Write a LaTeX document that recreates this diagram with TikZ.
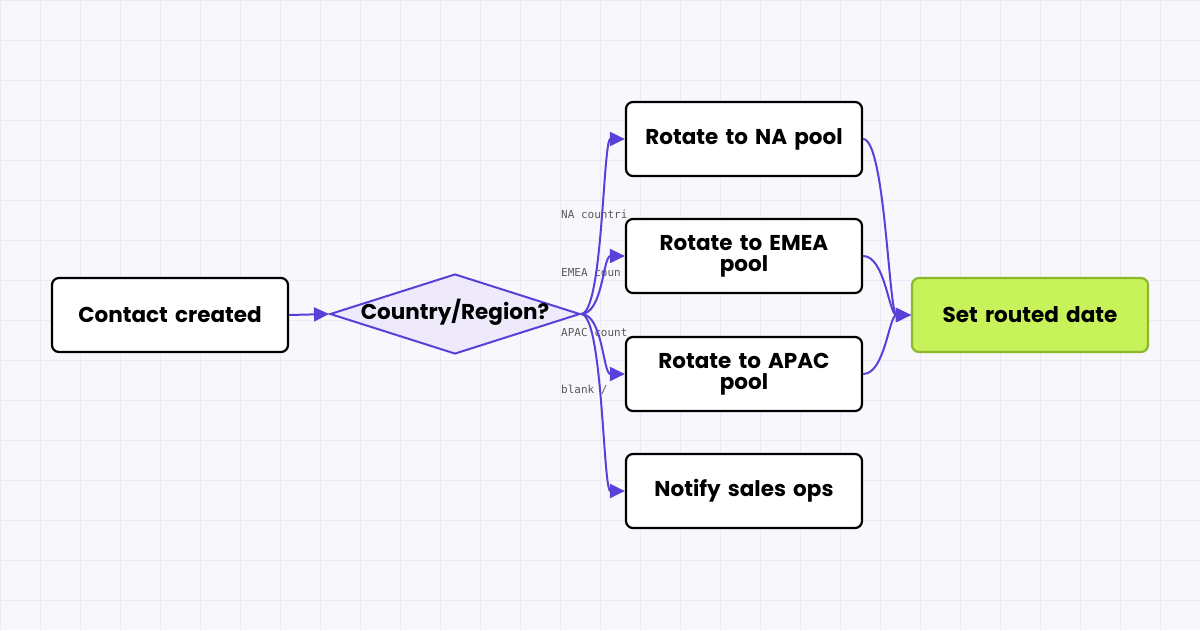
\documentclass[tikz,border=0pt]{standalone}
\usepackage{fontspec}
\setmainfont{Poppins}
\newfontfamily\mono{DejaVu Sans Mono}
\usetikzlibrary{shapes.geometric,arrows.meta}
\definecolor{bgc}{HTML}{F8F8FC}
\definecolor{gridc}{HTML}{ECEAF6}
\definecolor{edgec}{HTML}{5B3FD9}
\definecolor{dfill}{HTML}{EEE9FB}
\definecolor{gfill}{HTML}{C8F25A}
\definecolor{gdraw}{HTML}{8DB82E}
\begin{document}
\begin{tikzpicture}[x=1pt,y=-1pt,
  box/.style={draw=black,line width=2.2pt,rounded corners=7pt,fill=white,minimum width=236pt,minimum height=74pt,align=center,font=\fontsize{21.5}{21}\selectfont\bfseries,text width=220pt},
  edge/.style={draw=edgec,line width=2pt,-{Triangle[length=15pt,width=14pt]}},
  lab/.style={font=\mono\fontsize{11}{12}\selectfont,text=black!65,anchor=west,inner sep=0}]
\fill[bgc] (0,0) rectangle (1200,630);
\useasboundingbox (0,0) rectangle (1200,630);
\foreach \i in {0,40,...,1200} \draw[gridc,line width=0.8pt] (\i,0) -- (\i,630);
\foreach \j in {0,40,...,640} \draw[gridc,line width=0.8pt] (0,\j) -- (1200,\j);
\node[lab] (l1) at (561,214) {NA countri};
\node[lab] (l2) at (561,273) {EMEA coun};
\node[lab] (l3) at (561,332) {APAC count};
\node[lab] (l4) at (561,390) {blank /};
\node[box] (c) at (170,315) {Contact created};
\node[diamond,draw=edgec,line width=2pt,fill=dfill,minimum width=250pt,minimum height=80pt,aspect=3.1,inner sep=0] (d) at (455,314) {};
\node[font=\fontsize{21.5}{19}\selectfont\bfseries] (dt) at (455,312) {Country/Region?};
\node[box] (na) at (744,139) {Rotate to NA pool};
\node[box] (em) at (744,256) {Rotate to EMEA\\pool};
\node[box] (ap) at (744,374) {Rotate to APAC\\pool};
\node[box] (no) at (744,491) {Notify sales ops};
\node[box,draw=gdraw,fill=gfill] (s) at (1030,315) {Set routed date};
\draw[edge] (c.east) -- (d.west);
\foreach \t in {na,em,ap,no}
  \draw[edge] (d.east) .. controls +(22,0) and +(-22,0) .. (\t.west);
\foreach \t in {na,em,ap}
  \draw[edge] (\t.east) .. controls +(22,0) and +(-22,0) .. (s.west);
\end{tikzpicture}
\end{document}
